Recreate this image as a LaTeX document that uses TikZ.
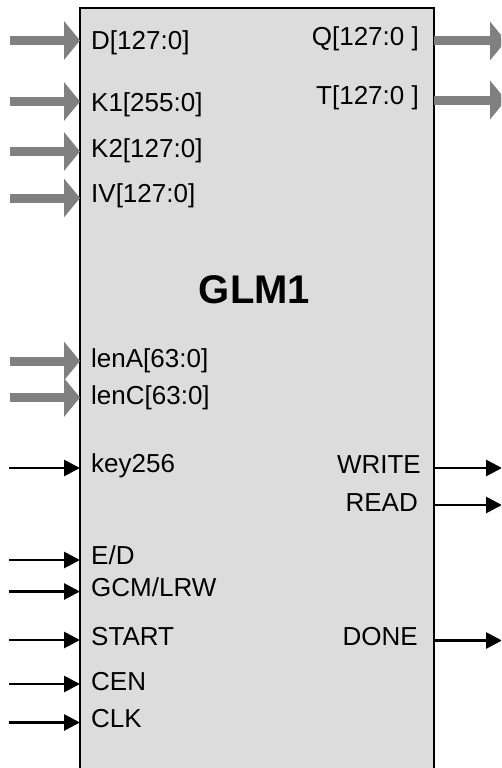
\documentclass[tikz,border=0pt]{standalone}
\usepackage{fontspec}
\setmainfont{Liberation Sans}
\usetikzlibrary{arrows.meta}
\definecolor{boxfill}{HTML}{DCDCDC}
\definecolor{busgray}{HTML}{808080}
\begin{document}
\begin{tikzpicture}[x=1pt,y=-1pt,
  bus/.style={draw=busgray, line width=9pt, -{Triangle[length=16pt,width=38pt]}, busgray},
  sig/.style={draw=black, line width=2.8pt, -{Triangle[length=16pt,width=16pt]}},
  lbl/.style={font=\fontsize{26}{30}\selectfont, inner sep=0pt, anchor=base west},
  rlbl/.style={font=\fontsize{26}{30}\selectfont, inner sep=0pt, anchor=base east},
  blk/.style={draw=black, line width=2pt, fill=boxfill, inner sep=0pt, outer sep=0pt,
    minimum width=354pt, minimum height=820pt, anchor=north west}]
\useasboundingbox (0,0) rectangle (501,768);
\clip (0,0) rectangle (501,768);
\node[blk] (box) at (80,8) {};
\node[font=\fontsize{40}{44}\selectfont\bfseries, inner sep=0pt, anchor=base] (title) at (254.5,303) {GLM1};
% left labels
\node[lbl] (lD) at (91,49.5) {D[127:0]};
\node[lbl] (lK1) at (91,111) {K1[255:0]};
\node[lbl] (lK2) at (91,157) {K2[127:0]};
\node[lbl] (lIV) at (91,202) {IV[127:0]};
\node[lbl] (llenA) at (91,367) {lenA[63:0]};
\node[lbl] (llenC) at (91,404) {lenC[63:0]};
\node[lbl] (lkey) at (91,472) {key256};
\node[lbl] (lED) at (91,564) {E/D};
\node[lbl] (lGCM) at (91,596) {GCM/LRW};
\node[lbl] (lSTART) at (91,645) {START};
\node[lbl] (lCEN) at (91,690) {CEN};
\node[lbl] (lCLK) at (91,727) {CLK};
% right labels
\node[rlbl] (lQ) at (419,46) {Q[127:0 ]};
\node[rlbl] (lT) at (419,104) {T[127:0 ]};
\node[rlbl] (lWRITE) at (421,473) {WRITE};
\node[rlbl] (lREAD) at (418,511.5) {READ};
\node[rlbl] (lDONE) at (418,645) {DONE};
% left bus inputs
\coordinate (iD) at (10,40.5);
\coordinate (iK1) at (10,101.5);
\coordinate (iK2) at (10,151.5);
\coordinate (iIV) at (10,198);
\coordinate (ilenA) at (10,361);
\coordinate (ilenC) at (10,397.5);
\foreach \c in {iD,iK1,iK2,iIV,ilenA,ilenC}{
  \draw[bus] (\c) -- (\c -| box.west);
}
% left single inputs
\coordinate (ikey) at (9,468);
\coordinate (iED) at (9,560);
\coordinate (iGCM) at (9,591.5);
\coordinate (iSTART) at (9,640);
\coordinate (iCEN) at (9,684);
\coordinate (iCLK) at (9,722.5);
\foreach \c in {ikey,iED,iGCM,iSTART,iCEN,iCLK}{
  \draw[sig] (\c) -- (\c -| box.west);
}
% right bus outputs
\coordinate (oQ) at (506,41);
\coordinate (oT) at (506,100);
\foreach \c in {oQ,oT}{
  \draw[bus] (\c -| box.east) -- (\c);
}
% right single outputs
\coordinate (oWRITE) at (502,468);
\coordinate (oREAD) at (502,505);
\coordinate (oDONE) at (502,640.5);
\foreach \c in {oWRITE,oREAD,oDONE}{
  \draw[sig] (\c -| box.east) -- (\c);
}
\end{tikzpicture}
\end{document}
